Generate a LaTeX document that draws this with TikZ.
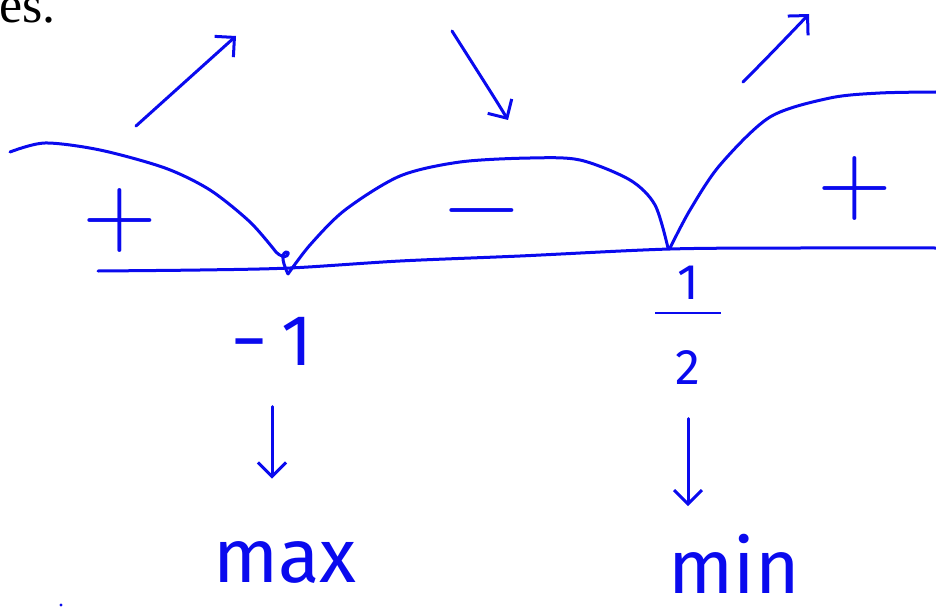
\documentclass[tikz,border=0pt]{standalone}
\usepackage{fontspec}
\usepackage{unicode-math}
\setmainfont{Liberation Serif}
\setsansfont{Fira Sans}
\setmathfont{Latin Modern Math}
\usetikzlibrary{arrows.meta, positioning}
\definecolor{inkblue}{HTML}{0A0AEE}

\begin{document}
\begin{tikzpicture}[
    x=1pt, y=-1pt,
    >={Straight Barb[length=14pt, width=28pt]},
    line width=3pt,
    stroke/.style={draw=inkblue, line cap=round, line join=round},
    sign/.style={text=inkblue, font=\fontsize{96}{96}\selectfont, inner sep=0pt},
    pointlabel/.style={text=inkblue, font=\sffamily\fontsize{72}{72}\selectfont, inner sep=0pt},
    word/.style={text=inkblue, font=\sffamily\fontsize{76}{76}\selectfont, inner sep=0pt, anchor=base}
]
    \useasboundingbox (0,0) rectangle (936,607);

    % Text cut off at the top edge
    \node[anchor=base west, inner sep=0pt, font=\fontsize{52}{52}\selectfont] (cuttext) at (-2,23) {es.};

    % Number line
    \draw[stroke] plot[smooth] coordinates {(98,271) (200,270) (290,268) (400,261) (520,256) (670,249) (800,248) (936,248)};

    % Sign curves
    \draw[stroke] plot[smooth] coordinates {(10,152) (45,143) (100,150) (165,168) (210,190) (250,222) (276,252)}
        .. controls (286,262) and (292,252) .. (286,252) .. controls (280,254) and (284,266) .. (288,274);
    \draw[stroke] plot[smooth] coordinates {(288,274) (310,245) (345,210) (400,176) (460,162) (530,158) (580,160) (630,180) (655,205) (668,248)};
    \draw[stroke] plot[smooth] coordinates {(670,248) (690,210) (720,165) (770,117) (830,98) (880,93) (936,92)};

    % Signs
    \node[sign] (plusleft) at (120,220) {$+$};
    \node[sign] (minusmid) at (482,222) {$-$};
    \node[sign] (plusright) at (855,188) {$+$};

    % Direction arrows
    \coordinate (riseA) at (136,126);
    \coordinate (riseAtip) at (236,36);
    \coordinate (fallB) at (452,31);
    \coordinate (fallBtip) at (508,120);
    \coordinate (riseC) at (743,82);
    \coordinate (riseCtip) at (809,14);
    \draw[stroke, ->] (riseA) -- (riseAtip);
    \draw[stroke, ->] (fallB) .. controls (478,72) and (496,100) .. (fallBtip);
    \draw[stroke, ->] (riseC) .. controls (765,60) and (790,34) .. (riseCtip);

    % Critical points
    \node[pointlabel, anchor=base] (minusone) at (272,365) {−\hspace{14pt}1};
    \node[pointlabel, align=center, font=\sffamily\fontsize{50}{50}\selectfont] (half) at (688,325) {1\\[-35pt]\rule{66pt}{2.6pt}\\[20pt]2};

    % Extrema
    \node[word] (maxword) at (285,582) {max};
    \node[word] (minword) at (734,593) {min};
    \draw[stroke, ->, shorten <=40pt, shorten >=61pt] (minusone.south) -- (minusone.south |- maxword.north);
    \draw[stroke, ->, shorten <=33pt, shorten >=26pt] (half.south) -- (half.south |- minword.north);

    % Stray dot
    \fill[inkblue] (61,605) circle (1.6);

\end{tikzpicture}
\end{document}
